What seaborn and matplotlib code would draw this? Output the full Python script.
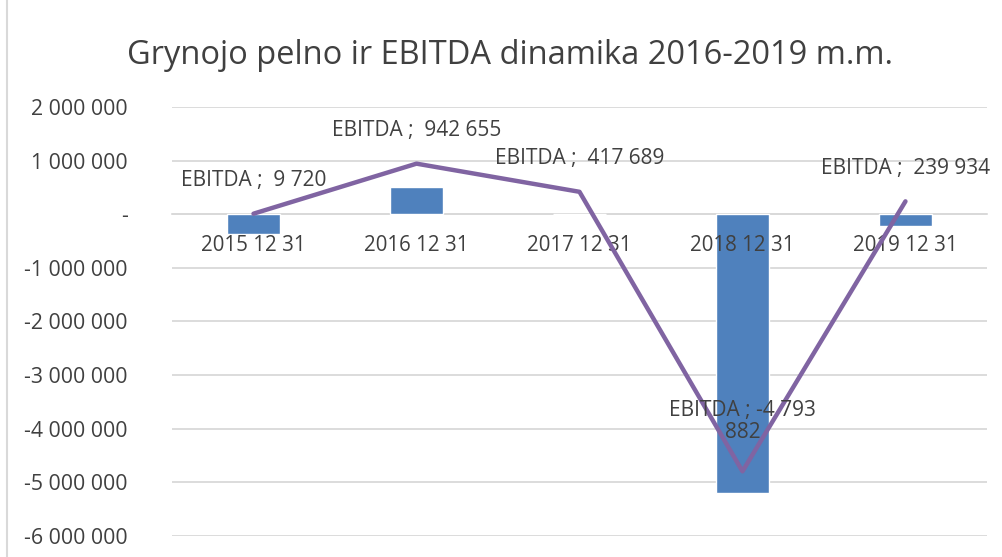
import matplotlib
matplotlib.use("Agg")
import matplotlib.pyplot as plt
import matplotlib.ticker as mticker
import numpy as np
import seaborn as sns

# Duomenys
DATES = ["2015 12 31", "2016 12 31", "2017 12 31", "2018 12 31", "2019 12 31"]
NET_PROFIT = [-370000, 510000, 12000, -5200000, -220000]
EBITDA = [9720, 942655, 417689, -4793882, 239934]
EBITDA_LABELS = ["EBITDA ;  9 720", "EBITDA ;  942 655", "EBITDA ;  417 689",
                 "EBITDA ; -4 793\n882", "EBITDA ;  239 934"]
Y_TICKS = [2000000, 1000000, 0, -1000000, -2000000, -3000000, -4000000, -5000000, -6000000]

BAR_COLOR = "#4F81BD"
LINE_COLOR = "#8064A2"
TEXT_COLOR = "#404040"
GRID_COLOR = "#D9D9D9"


def fmt_thousands(v, pos=None):
    if v == 0:
        return "-"
    return f"{int(v):,}".replace(",", " ")


def main():
    sns.set_theme(style="white")
    plt.rcParams["font.family"] = ["Open Sans", "DejaVu Sans"]

    fig = plt.figure(figsize=(10.03, 5.57), dpi=100)
    ax = fig.add_axes([0.1715, 0.0377, 0.8125, 0.7703])

    # tinklelis po stulpeliais, bet asiu uzrasai virs ju
    for t in Y_TICKS:
        ax.axhline(t, color=GRID_COLOR, linewidth=1.3, zorder=0.5)

    x = np.arange(len(DATES))
    sns.barplot(x=DATES, y=NET_PROFIT, color=BAR_COLOR, width=0.32, saturation=1, ax=ax)
    sns.lineplot(x=x, y=EBITDA, color=LINE_COLOR, linewidth=3.2, ax=ax, zorder=3)

    for xi, yi, lab in zip(x, EBITDA, EBITDA_LABELS):
        off = 24 if "\n" not in lab else 36
        ax.annotate(lab, (xi, yi), xytext=(0, off), textcoords="offset points",
                    ha="center", va="center", fontsize=15, color=TEXT_COLOR,
                    linespacing=1.05, zorder=4)

    ax.set_ylim(-6000000, 2000000)
    ax.set_xlim(-0.5, len(DATES) - 0.5)
    ax.set_yticks(Y_TICKS)
    ax.yaxis.set_major_formatter(mticker.FuncFormatter(fmt_thousands))
    ax.grid(False)
    ax.set_axisbelow(False)

    for s in ["left", "right", "top"]:
        ax.spines[s].set_visible(False)
    ax.spines["bottom"].set_position(("data", 0))
    ax.spines["bottom"].set_color(GRID_COLOR)
    ax.spines["bottom"].set_zorder(0.5)
    ax.tick_params(axis="x", length=0, pad=15, labelsize=14.8, labelcolor=TEXT_COLOR)
    ax.tick_params(axis="y", length=0, pad=32, labelsize=15.3, labelcolor=TEXT_COLOR)
    ax.set_xlabel("")
    ax.set_ylabel("")

    fig.text(0.508, 0.9, "Grynojo pelno ir EBITDA dinamika 2016-2019 m.m.",
             ha="center", va="center", fontsize=23.5, color=TEXT_COLOR)

    # remelis aplink diagrama
    fig.patches.append(plt.Rectangle((0.007, -0.01), 1.1, 1.1, transform=fig.transFigure,
                                     fill=False, edgecolor=GRID_COLOR, linewidth=1.5))

    fig.savefig("out.png", dpi=100)


if __name__ == "__main__":
    main()
